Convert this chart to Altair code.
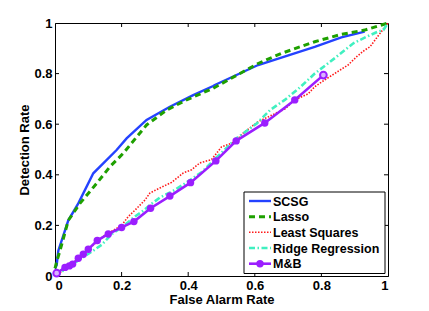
import altair as alt
import pandas as pd

# ---- data ----
scsg_x = [0.0, 0.005, 0.01, 0.04, 0.07, 0.115, 0.185, 0.215, 0.275, 0.345, 0.415, 0.475, 0.48, 0.61, 0.78, 0.86, 0.93]
scsg_y = [0.03, 0.043, 0.10, 0.22, 0.287, 0.406, 0.498, 0.544, 0.617, 0.669, 0.715, 0.751, 0.755, 0.834, 0.906, 0.943, 0.966]

lasso_x = [0.0, 0.005, 0.015, 0.04, 0.075, 0.125, 0.165, 0.205, 0.275, 0.335, 0.395, 0.475, 0.61, 0.68, 0.78, 0.86, 0.93, 1.0]
lasso_y = [0.03, 0.057, 0.10, 0.22, 0.287, 0.366, 0.432, 0.485, 0.597, 0.656, 0.696, 0.742, 0.84, 0.88, 0.926, 0.955, 0.972, 1.0]

ls_x = [0.0, 0.05, 0.10, 0.15, 0.175, 0.2, 0.22, 0.24, 0.27, 0.285, 0.315, 0.35, 0.385, 0.41, 0.435, 0.47, 0.5, 0.54, 0.565, 0.61, 0.65, 0.69, 0.72, 0.76, 0.78, 0.81, 0.856, 0.88, 0.906, 0.93, 0.946, 0.976, 1.0]
ls_y = [0.0, 0.045, 0.105, 0.162, 0.18, 0.2, 0.235, 0.26, 0.30, 0.328, 0.348, 0.37, 0.407, 0.42, 0.447, 0.46, 0.51, 0.53, 0.565, 0.61, 0.635, 0.66, 0.696, 0.72, 0.748, 0.775, 0.814, 0.834, 0.867, 0.893, 0.906, 0.959, 1.0]

rr_x = [0.0, 0.04, 0.07, 0.11, 0.14, 0.17, 0.205, 0.24, 0.265, 0.287, 0.315, 0.36, 0.395, 0.44, 0.486, 0.545, 0.606, 0.646, 0.69, 0.735, 0.78, 0.846, 0.896, 0.936, 0.97, 0.986, 1.0]
rr_y = [0.0, 0.035, 0.062, 0.096, 0.123, 0.165, 0.197, 0.235, 0.258, 0.282, 0.31, 0.34, 0.37, 0.41, 0.47, 0.544, 0.603, 0.656, 0.696, 0.745, 0.80, 0.867, 0.92, 0.946, 0.966, 0.972, 1.0]

mb_x = [0.005, 0.03, 0.043, 0.053, 0.07, 0.085, 0.10, 0.127, 0.16, 0.20, 0.237, 0.287, 0.345, 0.407, 0.483, 0.544, 0.63, 0.72, 0.806]
mb_y = [0.011, 0.034, 0.040, 0.047, 0.07, 0.086, 0.106, 0.14, 0.166, 0.192, 0.215, 0.268, 0.316, 0.369, 0.455, 0.534, 0.605, 0.696, 0.794]

labels = ["SCSG", "Lasso", "Least Squares", "Ridge Regression", "M&B"]
x_title = "False Alarm Rate"
y_title = "Detection Rate"
tick_values = [0, 0.2, 0.4, 0.6, 0.8, 1]
inner_ticks = [0.2, 0.4, 0.6, 0.8]

# ---- styles ----
W, H = 333, 253
FONT = "Liberation Sans"
styles = [
    dict(color="#2442ff", strokeWidth=2.4),
    dict(color="#1ea000", strokeWidth=3, strokeDash=[6, 4]),
    dict(color="#ff1a1a", strokeWidth=1.6, strokeDash=[1.5, 1.5]),
    dict(color="#40f0c0", strokeWidth=2.6, strokeDash=[6, 2.5, 1.5, 2.5]),
    dict(color="#9b1eff", strokeWidth=2.6),
]
series = [(scsg_x, scsg_y), (lasso_x, lasso_y), (ls_x, ls_y), (rr_x, rr_y), (mb_x, mb_y)]

xs = alt.Scale(domain=[0, 1], nice=False, zero=False)
ys = alt.Scale(domain=[0, 1], nice=False, zero=False)

axis_common = dict(values=tick_values, format="~g", grid=False, ticks=False,
                   labelFont=FONT, labelFontSize=13, labelFontWeight="bold", labelColor="black",
                   titleFont=FONT, titleFontSize=13, titleFontWeight="bold", titleColor="black",
                   domainColor="black", domainWidth=1, labelPadding=3)
xaxis = alt.Axis(title=x_title, titlePadding=1, **axis_common)
yaxis = alt.Axis(title=y_title, titlePadding=2, **axis_common)


def X(f):
    return alt.X(f, scale=xs, axis=xaxis)


def Y(f):
    return alt.Y(f, scale=ys, axis=yaxis)


layers = []
for i, ((sx, sy), st) in enumerate(zip(series, styles)):
    df = pd.DataFrame({"x": sx, "y": sy, "order": range(len(sx))})
    layers.append(alt.Chart(df).mark_line(**st).encode(x=X("x:Q"), y=Y("y:Q"), order="order:Q"))
    if i == 4:
        last = len(sx) - 1
        layers.append(alt.Chart(df).transform_filter(
            f"datum.order > 0 && datum.order < {last}").mark_circle(
            color=st["color"], size=55, opacity=1).encode(x=X("x:Q"), y=Y("y:Q")))
        layers.append(alt.Chart(df).transform_filter(
            f"datum.order == 0 || datum.order == {last}").mark_point(
            filled=True, fill="#d9b3ff", stroke=st["color"], strokeWidth=2, size=45, opacity=1
        ).encode(x=X("x:Q"), y=Y("y:Q")))

# inward ticks on all four sides
tdf = pd.DataFrame({"x": inner_ticks, "y": inner_ticks})
rule = dict(color="black", strokeWidth=1)
layers.append(alt.Chart(tdf).mark_rule(**rule).encode(x=X("x:Q"), y=alt.value(H), y2=alt.value(H - 4)))
layers.append(alt.Chart(tdf).mark_rule(**rule).encode(x=X("x:Q"), y=alt.value(0), y2=alt.value(4)))
layers.append(alt.Chart(tdf).mark_rule(**rule).encode(y=Y("y:Q"), x=alt.value(0), x2=alt.value(4)))
layers.append(alt.Chart(tdf).mark_rule(**rule).encode(y=Y("y:Q"), x=alt.value(W), x2=alt.value(W - 4)))

# legend box
one = alt.Data(values=[{"a": 1}])
lx0, lx1, ly0, ly1 = 189, 330, 169, 250.5
layers.append(alt.Chart(one).mark_rect(fill="white", stroke="black", strokeWidth=1).encode(
    x=alt.value(lx0), x2=alt.value(lx1), y=alt.value(ly0), y2=alt.value(ly1)))
entry_y = [178, 193.7, 209.3, 225, 240.7]
for lab, st, ey in zip(labels, styles, entry_y):
    layers.append(alt.Chart(one).mark_rule(**st).encode(
        x=alt.value(194), x2=alt.value(216), y=alt.value(ey)))
    layers.append(alt.Chart(one).mark_text(align="left", baseline="middle", font=FONT, fontSize=12.5,
                                           fontWeight="bold", color="black", text=lab).encode(
        x=alt.value(218), y=alt.value(ey + 0.5)))
layers.append(alt.Chart(one).mark_circle(color=styles[4]["color"], size=55, opacity=1).encode(
    x=alt.value(205), y=alt.value(entry_y[4])))

chart = alt.layer(*layers).properties(
    width=W, height=H,
    autosize=alt.AutoSizeParams(type="none"),
    padding={"left": 47, "top": 15, "right": 30, "bottom": 34},
).configure_view(stroke="black", strokeWidth=1)

chart.save("out.html", embed_options={"renderer": "svg", "actions": False})
